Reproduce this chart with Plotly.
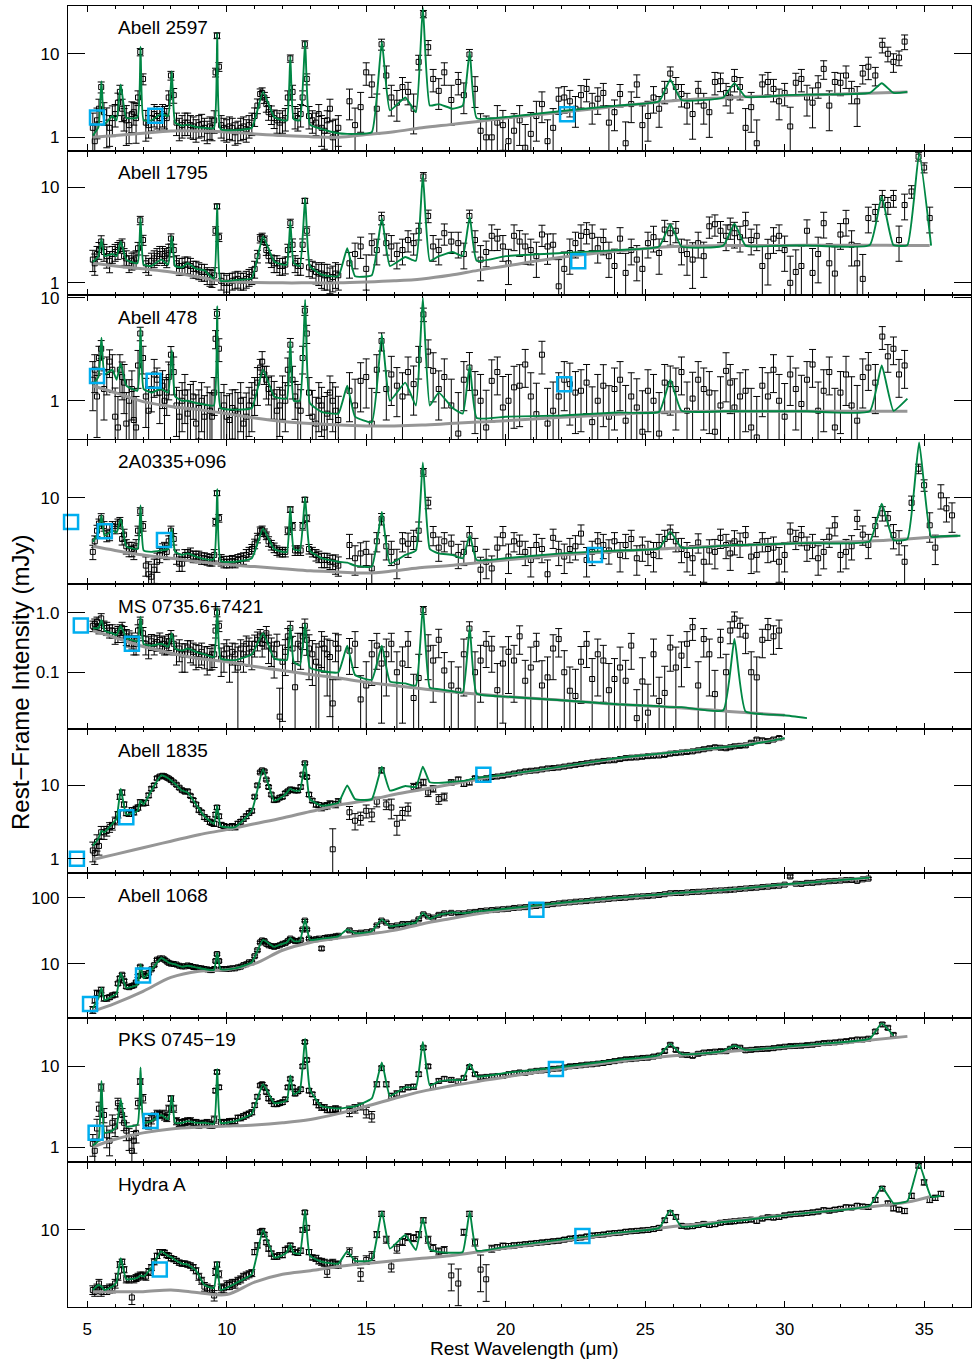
import sys
import plotly.graph_objects as go
from plotly.subplots import make_subplots

# ---------------- wavelength grids (micron) ----------------
SL_WL = [5.2, 5.35, 5.5, 5.7, 5.9, 6.1, 6.25, 6.4, 6.6, 6.75,
         6.9, 7.1, 7.3, 7.5, 7.7, 7.85, 8.0, 8.2, 8.4, 8.6,
         8.8, 9.0, 9.2, 9.4, 9.55, 9.65, 9.8, 10.0, 10.2, 10.4,
         10.6, 10.8, 11.0, 11.2, 11.35, 11.5, 11.7, 11.9, 12.1, 12.28,
         12.45, 12.65, 12.8, 12.95, 13.2, 13.4, 13.6, 13.8, 14.0]
SL2_WL = [5.27, 5.42, 5.6, 5.8, 6.0, 6.17, 6.32, 6.5, 6.67, 6.82,
          7.0, 7.2, 7.4, 7.6, 7.77, 7.92, 8.1, 8.3, 8.5, 8.7,
          8.9, 9.1, 9.3, 9.47, 9.6, 9.72, 9.9, 10.1, 10.3, 10.5,
          10.7, 10.9, 11.1, 11.27, 11.42, 11.6, 11.8, 12.0, 12.19, 12.36,
          12.55, 12.72, 12.87, 13.07, 13.3, 13.5, 13.7, 13.9]
LL_WL = [14.4, 14.8, 15.2, 15.55, 15.9, 16.3, 16.7, 17.05, 17.4, 17.8,
         18.3, 18.7, 19.1, 19.5, 19.9, 20.3, 20.7, 21.1, 21.5, 21.9,
         22.3, 22.7, 23.1, 23.5, 23.9, 24.3, 24.7, 25.1, 25.5, 25.9,
         26.3, 26.7, 27.1, 27.5, 27.9, 28.2, 28.6, 29.0, 29.4, 29.8,
         30.2, 30.6, 31.0, 31.4, 31.8, 32.2, 32.6, 33.0, 33.5, 33.9,
         34.3, 34.8, 35.2, 35.6, 36.0]
LL2_WL = [14.6, 15.0, 15.38, 15.72, 16.1, 16.5, 16.88, 17.22, 17.6, 18.05,
          18.5, 18.9, 19.3, 19.7, 20.1, 20.5, 20.9, 21.3, 21.7, 22.1,
          22.5, 22.9, 23.3, 23.7, 24.1, 24.5, 24.9, 25.3, 25.7, 26.1,
          26.5, 26.9, 27.3, 27.7, 28.05, 28.4, 28.8, 29.2, 29.6, 30.0,
          30.4, 30.8, 31.2, 31.6, 32.0, 32.4, 32.8, 33.25, 33.7, 34.1,
          34.55, 35.0, 35.4, 35.8]
MODEL_WL = [5.2, 5.4, 5.51, 5.62, 5.9, 6.05, 6.2, 6.4, 6.8, 6.91, 7.02, 7.3,
            7.65, 7.9, 8.03, 8.15, 8.4, 8.6, 8.9, 9.2, 9.54, 9.66, 9.78, 10.3,
            10.9, 11.3, 11.7, 12.0, 12.16, 12.28, 12.4, 12.62, 12.81, 12.98, 13.4, 14.0, 14.32, 14.6,
            15.2, 15.56, 15.85, 16.4, 16.78, 17.03, 17.28, 17.6, 18.1, 18.46, 18.71, 18.96,
            20.0, 22.0, 24.0, 25.5, 25.9, 26.3, 27.8, 28.2, 28.6, 30.0, 30.8, 33.05, 33.48, 33.9,
            34.4, 34.82, 35.25, 35.6, 36.3]
CONT_WL = [5.2, 6, 7, 8, 9, 10, 11, 12, 13, 14, 15, 16, 17, 18, 19, 20,
           22, 24, 26, 28, 30, 32, 33, 34.4, 35.2, 36.2]
N = None

# ---------------- Abell 2597 ----------------
A2597_sl = [1.3, 1.6, 4.0, 1.5, 1.7, 2.6, 2.2, 1.6, 1.9, 1.7,
            10.5, 1.5, 1.7, 1.8, 1.9, 1.7, 5.5, 1.5, 1.4, 1.5,
            1.35, 1.4, 1.3, 1.35, 1.6, 16.5, 1.4, 1.25, 1.3, 1.2,
            1.35, 1.4, 1.8, 3.3, 3.0, 2.0, 1.7, 1.5, 1.7, 8.8,
            1.8, 1.9, 13.0, 1.8, 1.5, 1.3, 1.6, 1.0, 1.3]
A2597_sl_err = [0.5, 0.4, 0.15, 0.5, 0.4, 0.3, 0.3, 0.5, 0.4, 0.5,
                0.1, 0.4, 0.3, 0.3, 0.3, 0.3, 0.12, 0.3, 0.3, 0.3,
                0.3, 0.3, 0.3, 0.3, 0.3, 0.08, 0.3, 0.3, 0.3, 0.3,
                0.3, 0.3, 0.25, 0.15, 0.15, 0.2, 0.25, 0.3, 0.3, 0.1,
                0.3, 0.3, 0.1, 0.3, 0.3, 0.4, 0.3, 0.6, 0.4]
A2597_sl2 = [0.9, 2.2, 2.0, 1.3, 1.9, 3.5, 1.7, 1.4, 2.0, 3.0,
             5.0, 1.4, 1.9, 1.7, 1.8, 3.0, 3.2, 1.3, 1.5, 1.4,
             1.25, 1.45, 1.2, 1.3, 6.0, 7.0, 1.3, 1.35, 1.15, 1.3,
             1.25, 1.5, 2.4, 3.4, 2.5, 1.9, 1.6, 1.6, 3.0, 3.5,
             1.7, 3.0, 5.0, 1.6, 1.9, 1.2, 2.2, 1.1]
A2597_sl2_err = [0.6, 0.3, 0.3, 0.4, 0.3, 0.2, 0.3, 0.4, 0.3, 0.2,
                 0.15, 0.3, 0.3, 0.3, 0.3, 0.2, 0.2, 0.3, 0.3, 0.3,
                 0.3, 0.3, 0.3, 0.3, 0.12, 0.12, 0.3, 0.3, 0.3, 0.3,
                 0.3, 0.3, 0.2, 0.15, 0.2, 0.25, 0.3, 0.3, 0.2, 0.2,
                 0.3, 0.2, 0.15, 0.3, 0.3, 0.4, 0.3, 0.5]
A2597_ll = [2.7, 2.3, 4.3, 13, 3.0, 4.0, 2.2, 30, 5.0, 6.0,
            4.6, 9.8, 1.2, 1.0, 1.4, 1.2, 0.75, 1.8, 0.9, 2.9,
            2.7, 3.2, 2.4, 3.4, 2.0, 0.85, 4.3, 1.8, 2.2, 5.8,
            3.3, 1.9, 2.4, 4.6, 3.4, 5.0, 1.3, 0.85, 4.6, 2.7,
            1.35, 5.0, 2.6, 6.6, 4.6, 5.5, 2.7, 7.0, 12.8, 8.0,
            14, N, N, N, N]
A2597_ll_err = [0.4, 0.5, 0.3, 0.15, 0.4, 0.3, 0.5, 0.1, 0.3, 0.3,
                0.3, 0.15, 0.6, 0.7, 0.5, 0.6, 0.9, 0.5, 0.8, 0.35,
                0.35, 0.3, 0.4, 0.3, 0.4, 0.8, 0.3, 0.5, 0.4, 0.2,
                0.3, 0.5, 0.4, 0.3, 0.3, 0.3, 0.7, 0.9, 0.3, 0.4,
                0.7, 0.3, 0.5, 0.25, 0.3, 0.3, 0.5, 0.3, 0.2, 0.25,
                0.2, 0.3, 0.3, 0.3, 0.3]
A2597_ll2 = [1.4, 6.0, 2.2, 5.5, 2.6, 3.5, 8.0, 12, 3.6, 2.8,
             3.2, 3.8, 1.0, 1.5, 0.9, 1.6, 1.1, 2.5, 1.3, 3.0,
             2.2, 3.8, 2.9, 1.5, 3.3, 2.5, 1.4, 3.0, 3.6, 4.0,
             2.4, 3.6, 2.0, 4.7, 3.0, 4.0, 2.3, 4.3, 3.8, 3.4,
             4.5, 3.0, 4.2, 2.4, 4.5, 3.6, 5.8, 5.5, 10, 9.0,
             N, N, N, N]
A2597_ll2_err = [0.6, 0.3, 0.5, 0.3, 0.4, 0.3, 0.2, 0.2, 0.4, 0.5,
                 0.4, 0.4, 0.8, 0.6, 0.9, 0.5, 0.8, 0.4, 0.7, 0.35,
                 0.4, 0.3, 0.35, 0.6, 0.3, 0.4, 0.7, 0.35, 0.3, 0.3,
                 0.4, 0.3, 0.5, 0.25, 0.35, 0.3, 0.5, 0.3, 0.3, 0.3,
                 0.3, 0.4, 0.3, 0.5, 0.3, 0.3, 0.25, 0.25, 0.2, 0.2,
                 0.3, 0.3, 0.3, 0.3]
A2597_model = [1.05, 1.32, 4.7, 1.44, 1.8, 1.6, 4.3, 1.72, 1.72, 12.2, 1.6, 1.6,
               1.9, 1.8, 6.2, 1.5, 1.38, 1.42, 1.33, 1.3, 1.29, 17.6, 1.26, 1.22,
               1.3, 3.5, 1.75, 1.6, 1.6, 9.3, 1.65, 1.6, 14, 1.42, 1.26, 1.12, 1.1, 1.1,
               1.15, 14, 2.1, 3.0, 2.0, 36, 2.4, 2.5, 2.2, 2.4, 10.6, 1.7,
               1.75, 2.07, 2.4, 2.7, 4.9, 2.8, 3.0, 4.45, 3.05, 3.2, 3.25, 3.4, 4.45, 3.4,
               3.5, N, N, N, N]
A2597_cont = [1.0, 1.05, 1.12, 1.19, 1.19, 1.16, 1.1, 1.05, 1.02, 1.0, 1.08, 1.17, 1.3,
              1.42, 1.55, 1.7, 2.0, 2.35, 2.75, 3.0, 3.15, 3.3, 3.38, 3.5, N, N]
A2597_phot_wl = [5.35, 7.44, 22.2]
A2597_phot_fl = [1.73, 1.81, 1.89]

# ---------------- Abell 1795 ----------------
A1795_sl = [1.75, 2.0, 2.7, 1.9, 2.0, 2.2, 2.5, 1.8, 1.7, 1.8,
            4.5, 1.6, 1.7, 1.9, 2.0, 1.8, 2.9, 1.6, 1.5, 1.55,
            1.4, 1.35, 1.3, 1.15, 1.2, 6.3, 1.05, 1.0, 1.05, 1.1,
            1.05, 1.15, 1.4, 2.9, 2.8, 1.9, 1.6, 1.5, 1.55, 4.2,
            1.6, 1.5, 7.2, 1.45, 1.3, 1.25, 1.2, 1.15, 1.2]
A1795_sl_err = [0.25, 0.2, 0.15, 0.25, 0.2, 0.2, 0.15, 0.2, 0.2, 0.2,
                0.1, 0.2, 0.2, 0.2, 0.2, 0.2, 0.12, 0.2, 0.2, 0.2,
                0.2, 0.2, 0.2, 0.2, 0.2, 0.06, 0.2, 0.2, 0.2, 0.2,
                0.2, 0.2, 0.2, 0.1, 0.1, 0.15, 0.2, 0.2, 0.2, 0.1,
                0.2, 0.2, 0.06, 0.2, 0.25, 0.3, 0.3, 0.3, 0.3]
A1795_sl2 = [1.6, 2.2, 2.1, 1.7, 2.1, 2.4, 1.9, 1.6, 1.75, 2.3,
             2.8, 1.5, 1.8, 2.0, 1.9, 2.2, 2.2, 1.5, 1.55, 1.5,
             1.4, 1.3, 1.2, 1.12, 3.5, 3.0, 1.0, 1.0, 1.08, 1.05,
             1.1, 1.2, 1.9, 3.0, 2.2, 1.7, 1.6, 1.5, 2.2, 2.5,
             1.5, 2.5, 3.5, 1.4, 1.25, 1.2, 1.1, 1.25]
A1795_sl2_err = [0.25, 0.2, 0.2, 0.25, 0.2, 0.15, 0.2, 0.2, 0.2, 0.15,
                 0.12, 0.2, 0.2, 0.2, 0.2, 0.15, 0.15, 0.2, 0.2, 0.2,
                 0.2, 0.2, 0.2, 0.2, 0.1, 0.1, 0.25, 0.25, 0.2, 0.2,
                 0.2, 0.2, 0.15, 0.1, 0.12, 0.15, 0.2, 0.2, 0.15, 0.15,
                 0.2, 0.15, 0.1, 0.2, 0.25, 0.3, 0.3, 0.3]
A1795_ll = [1.6, 2.4, 2.6, 4.75, 2.4, 2.2, 2.6, 12.9, 2.4, 3.3,
            2.6, 5.0, 1.75, 3.1, 2.4, 3.1, 2.4, 1.9, 2.4, 0.92,
            2.05, 3.1, 3.1, 2.8, 1.5, 1.27, 1.75, 2.6, 2.05, 3.3,
            2.2, 1.75, 1.9, 4.1, 3.1, 3.3, 4.2, 3.1, 1.9, 3.1,
            1.0, 1.5, 1.27, 4.2, 1.25, 4.4, 1.6, 4.75, 7.7, 7.7,
            6.5, 20.8, 4.75, N, N]
A1795_ll_err = [0.3, 0.25, 0.25, 0.15, 0.3, 0.3, 0.25, 0.1, 0.3, 0.25,
                0.3, 0.15, 0.4, 0.3, 0.3, 0.3, 0.35, 0.4, 0.35, 0.9,
                0.4, 0.3, 0.3, 0.3, 0.5, 0.6, 0.4, 0.3, 0.4, 0.25,
                0.3, 0.5, 0.4, 0.25, 0.3, 0.3, 0.3, 0.3, 0.5, 0.3,
                0.9, 0.6, 0.8, 0.3, 0.9, 0.3, 0.6, 0.3, 0.2, 0.2,
                0.3, 0.1, 0.3, 0.3, 0.3]
A1795_ll2 = [2.0, 1.4, 2.2, 2.6, 2.0, 2.8, 3.5, 5.0, 2.2, 2.7,
             2.0, 2.8, 2.1, 2.9, 1.6, 2.7, 2.2, 3.2, 2.5, 1.4,
             2.6, 3.4, 2.3, 1.9, 2.9, 2.2, 1.4, 3.0, 3.6, 3.5,
             2.0, 2.6, 3.9, 3.5, 3.8, 3.0, 2.8, 1.5, 2.9, 2.2,
             1.3, 3.5, 2.0, 1.6, 3.2, 2.5, 1.1, 5.5, 6.5, 2.8,
             9.0, 16, N, N]
A1795_ll2_err = [0.3, 0.4, 0.3, 0.25, 0.3, 0.25, 0.2, 0.15, 0.3, 0.25,
                 0.3, 0.25, 0.3, 0.25, 0.4, 0.3, 0.3, 0.25, 0.3, 0.5,
                 0.3, 0.25, 0.3, 0.4, 0.3, 0.3, 0.6, 0.3, 0.25, 0.25,
                 0.4, 0.3, 0.25, 0.25, 0.25, 0.3, 0.3, 0.6, 0.3, 0.4,
                 0.7, 0.3, 0.5, 0.6, 0.3, 0.4, 0.8, 0.2, 0.2, 0.4,
                 0.15, 0.12, 0.3, 0.3]
A1795_model = [1.65, 1.9, 2.85, 1.9, 2.0, 1.9, 2.7, 1.75, 1.6, 4.76, 1.55, 1.5,
               1.75, 1.55, 3.05, 1.5, 1.45, 1.6, 1.4, 1.35, 1.1, 6.55, 1.05, 1.07,
               1.12, 3.05, 1.67, 1.55, 1.55, 4.4, 1.6, 1.5, 7.7, 1.5, 1.22, 1.17, 2.3, 1.17,
               1.2, 4.76, 1.5, 1.86, 1.7, 13.4, 1.7, 1.9, 2.1, 1.9, 4.95, 1.7,
               1.9, 2.05, 2.2, 2.4, 4.1, 2.4, 2.45, 4.15, 2.45, 2.45, 2.46, 2.48, 8.0, 2.48,
               2.48, 22.6, 2.45, N, N]
A1795_cont = [1.6, 1.5, 1.4, 1.3, 1.15, 1.03, 1.01, 1.0, 1.0, 1.0, 1.02, 1.05, 1.1,
              1.2, 1.35, 1.5, 1.85, 2.15, 2.4, 2.45, 2.46, 2.47, 2.47, 2.46, 2.45, N]
A1795_phot_wl = [22.6]
A1795_phot_fl = [1.68]

# ---------------- Abell 478 ----------------
A478_sl = [1.6, 1.1, 3.2, 1.9, 2.0, 0.55, 1.7, 0.6, 1.3, 0.55,
           4.5, 1.1, 1.3, 1.6, 1.4, 1.2, 2.8, 0.9, 1.0, 0.75,
           1.1, 0.85, 0.7, 0.8, 1.2, 7.0, 0.8, 0.7, 0.85, 0.75,
           0.6, 0.9, 1.2, 2.1, 1.8, 1.3, 1.1, 0.9, 1.0, 3.5,
           1.1, 0.8, 7.5, 1.2, 0.6, 0.9, 0.75, 1.0, 0.65]
A478_sl_err = [0.5, 0.6, 0.2, 0.4, 0.4, 1.0, 0.4, 1.0, 0.5, 1.0,
               0.15, 0.5, 0.4, 0.3, 0.4, 0.4, 0.2, 0.5, 0.5, 0.7,
               0.4, 0.5, 0.6, 0.5, 0.4, 0.1, 0.5, 0.6, 0.5, 0.6,
               0.8, 0.5, 0.4, 0.2, 0.2, 0.3, 0.4, 0.5, 0.5, 0.15,
               0.4, 0.6, 0.1, 0.4, 0.8, 0.5, 0.6, 0.5, 0.7]
A478_sl2 = [2.0, 2.6, 1.3, 2.4, 0.7, 2.0, 1.5, 1.0, 0.65, 2.2,
            2.6, 0.8, 1.8, 1.2, 1.0, 1.7, 1.9, 0.7, 1.2, 0.9,
            0.6, 1.0, 0.85, 0.7, 4.0, 3.2, 0.9, 0.65, 0.8, 1.0,
            0.7, 1.0, 1.5, 2.4, 1.6, 1.2, 0.8, 1.2, 2.0, 1.6,
            0.9, 2.6, 4.5, 0.7, 1.0, 0.55, 1.2, 0.8]
A478_sl2_err = [0.4, 0.3, 0.5, 0.3, 0.9, 0.4, 0.5, 0.6, 1.0, 0.4,
                0.3, 0.7, 0.4, 0.5, 0.6, 0.4, 0.4, 0.8, 0.5, 0.6,
                0.9, 0.5, 0.6, 0.7, 0.2, 0.25, 0.6, 0.8, 0.6, 0.5,
                0.7, 0.5, 0.4, 0.25, 0.35, 0.45, 0.6, 0.45, 0.3, 0.35,
                0.6, 0.3, 0.2, 0.8, 0.5, 1.0, 0.45, 0.7]
A478_ll = [1.25, 1.56, 0.6, 3.8, 1.8, 1.1, 1.45, 6.9, 1.95, 1.7,
           0.48, 2.1, 1.0, 1.56, 0.86, 1.35, 2.25, 0.74, 0.6, 1.1,
           1.45, 1.25, 0.62, 1.4, 1.3, 0.64, 0.86, 1.25, 0.48, 1.45,
           1.9, 1.05, 1.3, 0.5, 1.95, 0.86, 1.25, 0.44, 1.1, 1.0,
           1.8, 0.93, 2.25, 1.25, 0.55, 1.8, 0.64, 2.1, 4.2, 3.2,
           2.2, N, N, N, N]
A478_ll_err = [0.5, 0.5, 1.2, 0.2, 0.5, 0.7, 0.5, 0.15, 0.5, 0.5,
               1.5, 0.4, 0.8, 0.6, 1.0, 0.6, 0.4, 1.0, 1.2, 0.7,
               0.6, 0.6, 1.2, 0.6, 0.6, 1.2, 0.9, 0.6, 1.5, 0.5,
               0.4, 0.8, 0.6, 1.5, 0.5, 0.9, 0.6, 1.5, 0.7, 0.8,
               0.5, 0.9, 0.4, 0.6, 1.4, 0.5, 1.2, 0.4, 0.25, 0.3,
               0.4, 0.5, 0.5, 0.5, 0.5]
A478_ll2 = [0.9, 1.7, 2.0, 1.3, 1.4, 1.9, 2.5, 3.0, 1.3, 0.9,
            1.6, 1.2, 0.55, 1.9, 1.0, 1.4, 1.1, 2.8, 0.8, 1.6,
            1.2, 1.5, 1.0, 0.7, 1.6, 1.1, 0.5, 1.0, 1.5, 1.3,
            0.8, 1.6, 1.2, 0.9, 1.5, 1.1, 0.55, 1.4, 2.0, 0.7,
            1.3, 1.6, 0.8, 1.9, 1.2, 0.9, 1.7, 1.5, 2.7, 1.8,
            N, N, N, N]
A478_ll2_err = [0.8, 0.5, 0.4, 0.5, 0.5, 0.4, 0.35, 0.3, 0.5, 0.8,
                0.5, 0.6, 1.3, 0.4, 0.8, 0.6, 0.7, 0.35, 0.9, 0.5,
                0.6, 0.5, 0.8, 1.0, 0.5, 0.7, 1.5, 0.8, 0.5, 0.6,
                0.9, 0.5, 0.6, 0.9, 0.5, 0.7, 1.4, 0.5, 0.4, 1.1,
                0.6, 0.5, 0.9, 0.4, 0.6, 0.9, 0.5, 0.5, 0.3, 0.4,
                0.5, 0.5, 0.5, 0.5]
A478_model = [1.45, 1.7, 4.1, 1.8, 2.0, 1.6, 2.3, 1.4, 1.25, 5.1, 1.3, 1.2,
              1.3, 1.2, 3.1, 1.1, 1.0, 1.0, 0.95, 0.92, 0.9, 8.3, 0.85, 0.82,
              0.85, 2.0, 1.1, 1.05, 1.05, 3.8, 1.0, 1.0, 9.6, 0.95, 0.78, 0.75, 1.4, 0.7,
              0.62, 4.4, 1.0, 1.5, 0.9, 10, 0.9, 1.2, 0.85, 0.75, 2.2, 0.68,
              0.7, 0.72, 0.77, 0.78, 1.6, 0.8, 0.79, 0.79, 0.79, 0.79, 0.79, 0.79, 2.2, 0.8,
              1.05, N, N, N, N]
A478_cont = [1.4, 1.2, 0.98, 0.88, 0.82, 0.75, 0.68, 0.63, 0.6, 0.58, 0.57, 0.57, 0.58,
             0.6, 0.62, 0.64, 0.69, 0.74, 0.78, 0.79, 0.79, 0.79, 0.79, 0.79, N, N]
A478_phot_wl = [5.35, 7.38, 22.1]
A478_phot_fl = [1.74, 1.56, 1.45]

# ---------------- 2A0335+096 ----------------
A0335_sl = [3.2, 5.0, 6.5, 4.5, 5.5, 5.8, 4.2, 3.6, 3.4, 3.6,
            7.5, 2.4, 1.9, 2.6, 3.3, 3.2, 5.0, 2.9, 2.5, 3.0,
            2.9, 2.9, 2.8, 2.7, 3.0, 11, 2.7, 2.6, 2.65, 2.7,
            2.8, 3.2, 3.8, 5.0, 4.8, 4.0, 3.5, 3.2, 3.2, 7.8,
            3.3, 3.3, 9.6, 3.4, 3.0, 2.7, 2.7, 2.6, 2.4]
A0335_sl_err = [0.15, 0.12, 0.1, 0.12, 0.1, 0.1, 0.12, 0.15, 0.15, 0.15,
                0.08, 0.2, 0.3, 0.2, 0.15, 0.15, 0.1, 0.15, 0.15, 0.12,
                0.12, 0.12, 0.12, 0.12, 0.12, 0.05, 0.12, 0.12, 0.12, 0.12,
                0.12, 0.1, 0.1, 0.08, 0.08, 0.1, 0.1, 0.1, 0.1, 0.06,
                0.1, 0.1, 0.05, 0.1, 0.12, 0.15, 0.15, 0.15, 0.2]
A0335_sl2 = [4.0, 5.8, 5.5, 4.6, 5.2, 6.0, 4.6, 3.4, 3.2, 5.0,
             5.5, 2.0, 2.2, 3.0, 3.4, 4.0, 4.2, 2.5, 3.0, 3.1,
             2.9, 2.8, 2.75, 2.7, 6.0, 6.5, 2.6, 2.6, 2.6, 2.75,
             3.0, 3.4, 4.3, 5.1, 4.5, 3.7, 3.3, 3.2, 5.0, 5.5,
             3.3, 5.5, 6.5, 3.2, 2.9, 2.7, 2.6, 2.5]
A0335_sl2_err = [0.12, 0.1, 0.1, 0.12, 0.1, 0.1, 0.12, 0.15, 0.15, 0.1,
                 0.1, 0.3, 0.25, 0.15, 0.15, 0.12, 0.12, 0.15, 0.12, 0.12,
                 0.12, 0.12, 0.12, 0.12, 0.08, 0.08, 0.12, 0.12, 0.12, 0.12,
                 0.12, 0.1, 0.1, 0.08, 0.08, 0.1, 0.1, 0.1, 0.08, 0.08,
                 0.1, 0.08, 0.07, 0.1, 0.12, 0.15, 0.15, 0.2]
A0335_ll = [3.7, 3.1, 2.26, 6.4, 3.2, 4.0, 4.2, 17.1, 4.55, 4.0,
            3.0, 4.55, 2.2, 2.26, 4.55, 4.0, 3.2, 3.7, 2.0, 3.2,
            3.4, 4.7, 3.2, 3.7, 4.0, 3.7, 2.8, 3.2, 3.7, 4.9,
            3.4, 2.8, 2.6, 3.2, 3.7, 4.0, 4.55, 3.0, 3.4, 2.6,
            4.9, 4.55, 3.7, 3.2, 5.6, 3.2, 6.4, 3.7, 7.2, 4.55,
            2.6, 18.4, 5.6, 10.5, 6.9]
A0335_ll_err = [0.25, 0.25, 0.35, 0.12, 0.25, 0.2, 0.2, 0.08, 0.2, 0.2,
                0.25, 0.2, 0.3, 0.3, 0.2, 0.2, 0.25, 0.25, 0.35, 0.25,
                0.25, 0.2, 0.25, 0.25, 0.2, 0.25, 0.3, 0.25, 0.25, 0.15,
                0.25, 0.3, 0.35, 0.3, 0.25, 0.25, 0.2, 0.3, 0.25, 0.35,
                0.2, 0.2, 0.25, 0.3, 0.2, 0.3, 0.2, 0.25, 0.15, 0.25,
                0.4, 0.1, 0.3, 0.25, 0.3]
A0335_ll2 = [2.8, 3.2, 4.0, 3.6, 2.6, 3.8, 5.0, 9.0, 3.5, 3.8,
             3.2, 3.4, 2.6, 3.5, 2.9, 3.8, 2.7, 3.4, 4.3, 2.9,
             3.6, 2.7, 4.0, 3.3, 3.0, 4.2, 3.5, 3.0, 4.2, 4.0,
             3.0, 3.9, 3.3, 4.3, 3.1, 3.8, 2.9, 4.0, 3.5, 3.0,
             4.2, 3.5, 2.8, 4.4, 3.0, 3.6, 4.6, 5.5, 6.5, 4.0,
             9.0, 13, 3.5, 8.0]
A0335_ll2_err = [0.3, 0.25, 0.2, 0.25, 0.3, 0.25, 0.2, 0.12, 0.25, 0.2,
                 0.25, 0.25, 0.3, 0.25, 0.3, 0.2, 0.3, 0.25, 0.2, 0.3,
                 0.25, 0.3, 0.2, 0.25, 0.3, 0.2, 0.25, 0.3, 0.2, 0.2,
                 0.3, 0.2, 0.25, 0.2, 0.3, 0.25, 0.3, 0.2, 0.25, 0.3,
                 0.2, 0.25, 0.3, 0.2, 0.3, 0.25, 0.2, 0.2, 0.15, 0.25,
                 0.15, 0.12, 0.3, 0.25]
A0335_model = [3.95, 4.8, 6.9, 4.5, 5.0, 4.8, 6.4, 3.6, 3.4, 8.5, 3.3, 3.2,
               3.3, 3.4, 5.2, 3.2, 3.0, 3.1, 2.9, 2.75, 2.75, 12, 2.65, 2.6,
               2.8, 5.2, 3.4, 3.2, 3.2, 8.2, 3.4, 3.3, 10.1, 3.3, 2.8, 2.6, 2.55, 2.4,
               2.35, 7.4, 2.5, 3.0, 3.3, 21, 3.4, 3.1, 3.0, 2.8, 4.55, 2.7,
               2.8, 3.1, 3.3, 3.45, 4.9, 3.5, 3.65, 3.7, 3.7, 3.8, 3.85, 4.0, 8.8, 4.1,
               4.2, 32, 4.4, 4.45, 4.5]
A0335_cont = [3.6, 3.3, 3.0, 2.8, 2.6, 2.45, 2.35, 2.25, 2.15, 2.1, 2.05, 2.15, 2.3,
              2.4, 2.55, 2.7, 3.0, 3.25, 3.45, 3.65, 3.8, 3.95, 4.0, 4.2, 4.35, 4.5]
A0335_phot_wl = [4.42, 5.63, 7.75, 23.2]
A0335_phot_fl = [6.0, 4.94, 4.1, 3.0]

# ---------------- MS 0735.6+7421 ----------------
MS0735_sl = [0.6, 0.7, 0.8, 0.55, 0.5, 0.45, 0.55, 0.4, 0.35, 0.3,
             0.7, 0.3, 0.33, 0.32, 0.3, 0.28, 0.4, 0.22, 0.2, 0.26,
             0.22, 0.2, 0.19, 0.18, 0.2, 1.0, 0.17, 0.25, 0.22, 0.12,
             0.2, 0.25, 0.3, 0.4, 0.35, 0.28, 0.2, 0.018, 0.22, 0.55,
             0.056, 0.28, 0.6, 0.25, 0.15, 0.3, 0.2, 0.03, 0.25]
MS0735_sl_err = [0.2, 0.2, 0.2, 0.25, 0.25, 0.3, 0.25, 0.3, 0.3, 0.35,
                 0.2, 0.35, 0.3, 0.3, 0.3, 0.3, 0.25, 0.4, 0.5, 0.3,
                 0.4, 0.4, 0.4, 0.4, 0.4, 0.15, 0.5, 0.4, 0.4, 1.2,
                 0.5, 0.5, 0.4, 0.3, 0.3, 0.5, 0.6, 2.0, 0.6, 0.3,
                 1.5, 0.6, 0.3, 0.7, 1.0, 0.6, 0.8, 1.5, 0.7]
MS0735_sl2 = [0.65, 0.55, 0.6, 0.5, 0.42, 0.5, 0.45, 0.38, 0.3, 0.5,
              0.45, 0.28, 0.3, 0.35, 0.3, 0.33, 0.3, 0.25, 0.2, 0.24,
              0.2, 0.22, 0.18, 0.2, 0.5, 0.6, 0.2, 0.17, 0.2, 0.25,
              0.3, 0.22, 0.35, 0.3, 0.45, 0.25, 0.3, 0.15, 0.4, 0.25,
              0.3, 0.4, 0.35, 0.2, 0.12, 0.25, 0.18, 0.3]
MS0735_sl2_err = [0.2, 0.2, 0.2, 0.25, 0.3, 0.25, 0.3, 0.3, 0.35, 0.25,
                  0.25, 0.4, 0.35, 0.3, 0.35, 0.3, 0.35, 0.4, 0.5, 0.4,
                  0.45, 0.4, 0.5, 0.45, 0.25, 0.2, 0.5, 0.6, 0.5, 0.4,
                  0.35, 0.5, 0.35, 0.4, 0.3, 0.5, 0.45, 0.9, 0.35, 0.6,
                  0.5, 0.4, 0.45, 0.7, 1.2, 0.6, 0.9, 0.5]
MS0735_ll = [0.23, 0.035, 0.2, 0.14, 0.3, 0.14, 0.037, 1.1, 0.157, 0.107,
             0.049, 0.54, 0.157, 0.25, 0.14, 0.157, 0.072, 0.3, 0.082, 0.36,
             0.049, 0.15, 0.077, 0.157, 0.077, 0.072, 0.017, 0.021, 0.033, 0.26,
             0.19, 0.57, 0.36, 0.043, 0.1, 0.79, 0.41, 0.082, 0.57, 0.5,
             N, N, N, N, N, N, N, N, N, N,
             N, N, N, N, N]
MS0735_ll_err = [0.6, 1.5, 0.7, 0.9, 0.5, 0.9, 1.5, 0.15, 0.8, 1.0,
                 1.5, 0.3, 0.8, 0.6, 0.9, 0.8, 1.2, 0.5, 1.2, 0.5,
                 1.5, 0.8, 1.2, 0.8, 1.2, 1.2, 2.0, 2.0, 1.5, 0.6,
                 0.7, 0.4, 0.5, 1.5, 1.0, 0.3, 0.5, 1.2, 0.4, 0.5,
                 0.5, 0.5, 0.5, 0.5, 0.5, 0.5, 0.5, 0.5, 0.5, 0.5,
                 0.5, 0.5, 0.5, 0.5, 0.5]
MS0735_ll2 = [0.3, 0.06, 0.28, 0.2, 0.1, 0.3, 0.08, 0.25, 0.35, 0.06,
              0.2, 0.1, 0.3, 0.05, 0.22, 0.4, 0.12, 0.06, 0.25, 0.1,
              0.04, 0.3, 0.2, 0.05, 0.12, 0.28, 0.07, 0.2, 0.045, 0.12,
              0.3, 0.06, 0.2, 0.35, 0.5, 0.6, 0.1, 0.35, 0.4, N,
              N, N, N, N, N, N, N, N, N, N,
              N, N, N, N]
MS0735_ll2_err = [0.6, 1.5, 0.6, 0.8, 1.2, 0.6, 1.5, 0.7, 0.5, 1.5,
                  0.8, 1.2, 0.6, 1.8, 0.8, 0.5, 1.2, 1.6, 0.7, 1.3,
                  1.8, 0.6, 0.8, 1.8, 1.2, 0.6, 1.5, 0.8, 1.8, 1.2,
                  0.6, 1.5, 0.8, 0.5, 0.4, 0.35, 1.2, 0.5, 0.5, 0.5,
                  0.5, 0.5, 0.5, 0.5, 0.5, 0.5, 0.5, 0.5, 0.5, 0.5,
                  0.5, 0.5, 0.5, 0.5]
MS0735_model = [0.55, 0.55, 0.75, 0.5, 0.45, 0.42, 0.6, 0.38, 0.33, 0.85, 0.3, 0.28,
                0.3, 0.27, 0.45, 0.25, 0.23, 0.25, 0.22, 0.2, 0.18, 1.2, 0.17, 0.16,
                0.2, 0.45, 0.17, 0.16, 0.16, 0.6, 0.15, 0.13, 0.65, 0.12, 0.105, 0.1, 0.28, 0.09,
                0.075, 0.28, 0.07, 0.065, 0.06, 1.25, 0.055, 0.052, 0.048, 0.046, 0.57, 0.044,
                0.039, 0.034, 0.029, 0.027, 0.026, 0.026, 0.023, 0.36, 0.022, 0.019, 0.017, N, N, N,
                N, N, N, N, N]
MS0735_cont = [0.5, 0.38, 0.27, 0.21, 0.17, 0.15, 0.125, 0.107, 0.092, 0.08, 0.068, 0.06, 0.053,
               0.047, 0.043, 0.039, 0.034, 0.029, 0.026, 0.022, 0.019, N, N, N, N, N]
MS0735_phot_wl = [4.77, 6.6]
MS0735_phot_fl = [0.61, 0.3]

# ---------------- Abell 1835 ----------------
A1835_sl = [1.3, 1.7, 2.3, 2.4, 2.8, 4.0, 8.0, 4.2, 4.6, 4.8,
            5.9, 5.8, 9.0, 12.5, 13.5, 12.8, 11.8, 10.2, 8.6, 8.3,
            6.3, 4.6, 3.7, 3.2, 3.0, 5.0, 2.9, 2.7, 2.8, 3.0,
            3.5, 4.2, 7.0, 15.0, 15.5, 9.5, 6.3, 6.8, 7.8, 8.8,
            8.5, 9.5, 20, 7.5, 5.5, 5.0, 5.3, 1.35, 6.0]
A1835_sl_err = [0.3, 0.25, 0.2, 0.15, 0.12, 0.1, 0.08, 0.08, 0.08, 0.08,
                0.08, 0.08, 0.06, 0.05, 0.05, 0.05, 0.05, 0.05, 0.05, 0.05,
                0.05, 0.06, 0.07, 0.08, 0.08, 0.06, 0.08, 0.08, 0.08, 0.08,
                0.07, 0.06, 0.05, 0.04, 0.04, 0.05, 0.06, 0.06, 0.06, 0.05,
                0.06, 0.06, 0.04, 0.06, 0.08, 0.1, 0.1, 0.9, 0.1]
A1835_sl2 = [1.2, 1.5, 2.3, 2.7, 3.3, 7.0, 5.5, 4.1, 4.3, 5.0,
             5.7, 7.3, 10, 13.2, 13.3, 12.4, 11, 9.3, 8.2, 7.2,
             5.5, 4.3, 3.5, 3.1, 4.0, 3.8, 2.8, 2.7, 2.7, 3.2,
             3.8, 4.5, 10, 16, 12, 7.5, 6.4, 7.0, 8.3, 8.7,
             8.5, 14, 13, 6.2, 5.4, 5.2, 5.6, 5.5]
A1835_sl2_err = [0.3, 0.25, 0.2, 0.15, 0.12, 0.08, 0.08, 0.08, 0.08, 0.08,
                 0.08, 0.07, 0.06, 0.05, 0.05, 0.05, 0.05, 0.05, 0.05, 0.05,
                 0.05, 0.06, 0.07, 0.08, 0.07, 0.07, 0.08, 0.08, 0.08, 0.07,
                 0.07, 0.06, 0.05, 0.04, 0.04, 0.05, 0.06, 0.06, 0.05, 0.05,
                 0.06, 0.05, 0.05, 0.06, 0.08, 0.1, 0.1, 0.1]
A1835_ll = [4.3, 3.6, 4.0, 16, 5.0, 4.2, 9.5, 11, 9.0, 7.0,
            12, 11, 12, 13, 13.5, 14.5, 15.5, 16, 17, 17.5,
            18.5, 19.5, 20.5, 21.5, 22, 23.5, 24, 25, 25.5, 27,
            28, 29, 31, 33, 32, 34, 35, 42, 40, 44,
            N, N, N, N, N, N, N, N, N, N,
            N, N, N, N, N]
A1835_ll_err = [0.2, 0.2, 0.2, 0.08, 0.3, 0.2, 0.12, 0.1, 0.1, 0.12,
                0.08, 0.08, 0.06, 0.05, 0.05, 0.05, 0.05, 0.05, 0.05, 0.05,
                0.05, 0.05, 0.05, 0.05, 0.05, 0.05, 0.05, 0.05, 0.05, 0.05,
                0.05, 0.05, 0.05, 0.05, 0.05, 0.05, 0.05, 0.05, 0.05, 0.05,
                0.05, 0.05, 0.05, 0.05, 0.05, 0.05, 0.05, 0.05, 0.05, 0.05,
                0.05, 0.05, 0.05, 0.05, 0.05]
A1835_ll2 = [3.3, 4.5, 6.0, 5.5, 3.0, 4.8, 10, 8.0, 6.5, 11,
             10.5, 12.5, 12.5, 13.2, 14, 15, 15.8, 16.5, 17.2, 18,
             19, 20, 21, 21.8, 22.8, 23.8, 24.5, 25.3, 26, 27.5,
             28.5, 30, 32, 32.5, 33, 34.5, 38, 41, 42, N,
             N, N, N, N, N, N, N, N, N, N,
             N, N, N, N]
A1835_ll2_err = [0.25, 0.2, 0.15, 0.15, 0.3, 0.2, 0.1, 0.12, 0.15, 0.08,
                 0.08, 0.06, 0.05, 0.05, 0.05, 0.05, 0.05, 0.05, 0.05, 0.05,
                 0.05, 0.05, 0.05, 0.05, 0.05, 0.05, 0.05, 0.05, 0.05, 0.05,
                 0.05, 0.05, 0.05, 0.05, 0.05, 0.05, 0.05, 0.05, 0.05, 0.05,
                 0.05, 0.05, 0.05, 0.05, 0.05, 0.05, 0.05, 0.05, 0.05, 0.05,
                 0.05, 0.05, 0.05, 0.05]
A1835_model = [1.5, 1.9, 2.4, 2.3, 3.0, 3.5, 9.0, 4.0, 4.5, 6.2, 5.5, 8.5,
               13.7, 12.5, 11.5, 10.5, 8.5, 8.0, 5.5, 3.8, 3.0, 5.3, 2.8, 2.7,
               4.5, 16.5, 6.2, 7.0, 8.0, 9.0, 8.5, 8.5, 21, 6.5, 5.3, 5.8, 10, 6.5,
               6.5, 17.9, 8.5, 9.8, 9.5, 18, 11, 10.8, 11.2, 11.5, 12, 12.6,
               14, 18, 23.5, 27, 28, 29, 33, 34, 35, 44, N, N, N, N,
               N, N, N, N, N]
A1835_cont = [0.98, 1.15, 1.42, 1.74, 2.13, 2.5, 3.0, 3.6, 4.4, 5.4, 6.2, 7.5, 8.8,
              10.3, 12.2, 13.8, 17.8, 23, 28.2, 33.5, 43.5, N, N, N, N, N]
A1835_phot_wl = [4.63, 6.4, 19.2]
A1835_phot_fl = [1.0, 3.67, 14.0]

# ---------------- Abell 1068 ----------------
A1068_sl = [2.0, 3.6, 4.0, 3.0, 3.3, 5.0, 6.8, 4.5, 4.6, 5.2,
            9.0, 6.5, 8.2, 11.5, 12.0, 10.8, 10.0, 9.7, 9.1, 9.4,
            8.9, 8.6, 8.3, 8.0, 8.3, 14.0, 8.3, 8.3, 8.5, 8.8,
            9.5, 10.5, 13, 21, 22, 19, 18, 19, 20.5, 24,
            22, 23, 45, 24, 23.5, 17, 25, 25.5, 26.5]
A1068_sl_err = [0.12, 0.1, 0.1, 0.1, 0.08, 0.06, 0.05, 0.06, 0.06, 0.05,
                0.05, 0.05, 0.04, 0.04, 0.04, 0.04, 0.04, 0.04, 0.04, 0.04,
                0.04, 0.04, 0.04, 0.04, 0.04, 0.04, 0.04, 0.04, 0.04, 0.04,
                0.04, 0.04, 0.04, 0.04, 0.04, 0.04, 0.04, 0.04, 0.04, 0.04,
                0.04, 0.04, 0.04, 0.04, 0.04, 0.06, 0.04, 0.04, 0.04]
A1068_sl2 = [2.8, 3.5, 3.0, 3.1, 3.4, 6.0, 5.5, 4.4, 4.7, 6.5,
             7.0, 7.2, 9.5, 12, 11.5, 10.3, 9.9, 9.3, 9.1, 9.2,
             8.8, 8.5, 8.2, 8.0, 11, 11, 8.3, 8.4, 8.5, 9.0,
             9.8, 10.5, 16, 22.5, 20, 18.5, 18.5, 20, 22, 23,
             22, 33, 33, 23, 24, 24.5, 25, 26]
A1068_sl2_err = [0.1, 0.1, 0.1, 0.08, 0.08, 0.06, 0.05, 0.06, 0.05, 0.05,
                 0.04, 0.04, 0.04, 0.04, 0.04, 0.04, 0.04, 0.04, 0.04, 0.04,
                 0.04, 0.04, 0.04, 0.04, 0.04, 0.04, 0.04, 0.04, 0.04, 0.04,
                 0.04, 0.04, 0.04, 0.04, 0.04, 0.04, 0.04, 0.04, 0.04, 0.04,
                 0.04, 0.04, 0.04, 0.04, 0.04, 0.04, 0.04, 0.04]
A1068_ll = [32, 29.5, 31, 45, 37, 40, 42, 56, 50, 58,
            58, 60, 63, 65, 67, 70, 72, 75, 78, 82,
            85, 88, 91, 94, 98, 100, 104, 106, 110, 117,
            118, 122, 124, 128, 130, 133, 138, 142, 147, 152,
            210, 162, 168, 175, 180, 185, 180, 195, N, N,
            N, N, N, N, N]
A1068_ll_err = [0.05, 0.05, 0.05, 0.04, 0.04, 0.04, 0.04, 0.04, 0.04, 0.04,
                0.04, 0.04, 0.04, 0.04, 0.04, 0.04, 0.04, 0.04, 0.04, 0.04,
                0.04, 0.04, 0.04, 0.04, 0.04, 0.04, 0.04, 0.04, 0.04, 0.04,
                0.04, 0.04, 0.04, 0.04, 0.04, 0.04, 0.04, 0.04, 0.04, 0.04,
                0.05, 0.04, 0.04, 0.04, 0.04, 0.04, 0.04, 0.04, 0.04, 0.04,
                0.04, 0.04, 0.04, 0.04, 0.04]
A1068_ll2 = [29, 30, 38, 42, 38, 40, 47, 52, 55, 59,
             58, 61, 64, 66, 68, 71, 74, 77, 80, 84,
             87, 89, 93, 96, 99, 102, 105, 108, 113, 118,
             120, 123, 126, 129, 132, 136, 140, 145, 150, 158,
             163, 168, 172, 178, 182, 186, 190, N, N, N,
             N, N, N, N]
A1068_ll2_err = [0.04, 0.04, 0.04, 0.04, 0.04, 0.04, 0.04, 0.04, 0.04, 0.04,
                 0.04, 0.04, 0.04, 0.04, 0.04, 0.04, 0.04, 0.04, 0.04, 0.04,
                 0.04, 0.04, 0.04, 0.04, 0.04, 0.04, 0.04, 0.04, 0.04, 0.04,
                 0.04, 0.04, 0.04, 0.04, 0.04, 0.04, 0.04, 0.04, 0.04, 0.04,
                 0.04, 0.04, 0.04, 0.04, 0.04, 0.04, 0.04, 0.04, 0.04, 0.04,
                 0.04, 0.04, 0.04, 0.04]
A1068_model = [2.1, 3.0, 4.3, 2.8, 3.2, 3.5, 7.2, 4.3, 4.8, 9.7, 6.0, 8.0,
               12.2, 10.5, 10.0, 9.8, 9.0, 9.3, 8.8, 8.3, 8.0, 14.5, 8.2, 8.5,
               10.5, 23, 18, 20, 21, 24.6, 22, 22, 47, 23, 24, 26, 33, 29,
               31, 47, 37, 40, 42, 59, 48, 55, 60, 58, 60, 62,
               68, 84, 100, 112, 116, 119, 131, 135, 139, 160, 169, 202, N, N,
               N, N, N, N, N]
A1068_cont = [1.9, 2.5, 3.8, 6.2, 7.7, 8.1, 10, 16, 21, 24.5, 28, 32, 40,
              48, 57, 66, 82, 98, 115, 132, 157, 185, 200, N, N, N]
A1068_phot_wl = [5.1, 7.0, 21.1]
A1068_phot_fl = [2.45, 6.6, 66]

# ---------------- PKS 0745-19 ----------------
PKS0745_sl = [1.1, 1.7, 5.5, 1.4, 2.0, 3.5, 2.5, 1.6, 0.9, 1.5,
              6.5, 2.0, 2.2, 2.6, 2.6, 2.3, 4.0, 2.1, 2.0, 2.1,
              2.0, 1.9, 1.95, 1.9, 2.2, 8.5, 2.0, 2.0, 2.1, 2.3,
              2.4, 2.6, 3.3, 5.8, 5.5, 4.0, 3.4, 3.5, 3.9, 7.0,
              4.6, 5.2, 20, 5.0, 3.6, 3.1, 2.9, 2.9, 2.9]
PKS0745_sl_err = [0.3, 0.3, 0.1, 0.3, 0.25, 0.15, 0.2, 0.25, 0.4, 0.25,
                  0.08, 0.15, 0.12, 0.1, 0.1, 0.1, 0.08, 0.1, 0.1, 0.1,
                  0.1, 0.1, 0.1, 0.1, 0.1, 0.05, 0.1, 0.1, 0.08, 0.08,
                  0.08, 0.07, 0.06, 0.05, 0.05, 0.06, 0.06, 0.06, 0.06, 0.05,
                  0.06, 0.06, 0.04, 0.06, 0.07, 0.08, 0.08, 0.08, 0.08]
PKS0745_sl2 = [0.9, 3.0, 2.5, 1.2, 1.8, 3.0, 2.0, 1.3, 1.2, 3.5,
               4.0, 1.9, 2.4, 2.5, 2.4, 3.0, 3.0, 2.0, 2.05, 2.1,
               2.0, 1.95, 2.0, 1.9, 5.0, 5.5, 2.0, 2.05, 2.1, 2.3,
               2.5, 2.7, 4.2, 6.0, 4.8, 3.7, 3.4, 3.6, 5.5, 5.5,
               4.9, 10, 12, 4.5, 3.3, 3.1, 2.9, 3.0]
PKS0745_sl2_err = [0.4, 0.2, 0.2, 0.35, 0.25, 0.15, 0.2, 0.3, 0.3, 0.15,
                   0.12, 0.12, 0.1, 0.1, 0.1, 0.1, 0.1, 0.1, 0.1, 0.1,
                   0.1, 0.1, 0.1, 0.1, 0.06, 0.06, 0.1, 0.1, 0.08, 0.08,
                   0.08, 0.07, 0.06, 0.05, 0.05, 0.06, 0.06, 0.06, 0.05, 0.05,
                   0.06, 0.05, 0.05, 0.06, 0.07, 0.08, 0.08, 0.08]
PKS0745_ll = [2.8, 3.2, 2.4, 9.5, 4.3, 5.2, 5.6, 17, 5.7, 7.0,
              6.5, 9.8, 7.3, 7.5, 7.6, 8.2, 8.3, 8.8, 9.0, 9.4,
              10.0, 10.3, 10.6, 11.0, 11.6, 12.2, 12.5, 12.8, 13.6, 18.5,
              14.0, 13.5, 14.8, 15.2, 15.4, 17.5, 15.8, 16.3, 16.5, 17.2,
              17.8, 18.0, 18.5, 19.4, 19.8, 20.5, 21.5, 22, 33, 24.5,
              N, N, N, N, N]
PKS0745_ll_err = [0.15, 0.1, 0.15, 0.06, 0.08, 0.07, 0.07, 0.05, 0.07, 0.06,
                  0.06, 0.05, 0.05, 0.05, 0.05, 0.05, 0.05, 0.05, 0.05, 0.05,
                  0.05, 0.05, 0.05, 0.05, 0.05, 0.05, 0.05, 0.05, 0.05, 0.05,
                  0.05, 0.05, 0.05, 0.05, 0.05, 0.05, 0.05, 0.05, 0.05, 0.05,
                  0.05, 0.05, 0.05, 0.05, 0.05, 0.05, 0.05, 0.05, 0.05, 0.05,
                  0.05, 0.05, 0.05, 0.05, 0.05]
PKS0745_ll2 = [3.0, 2.7, 6.0, 6.0, 4.6, 5.5, 8.0, 10, 6.6, 6.8,
               7.2, 8.0, 7.4, 7.6, 8.0, 8.4, 8.6, 8.9, 9.3, 9.7,
               10.1, 10.5, 10.8, 11.3, 11.9, 12.3, 12.7, 13.2, 15.5, 16,
               13.8, 14.3, 15.0, 15.4, 16.5, 17, 16.0, 16.4, 16.8, 17.5,
               17.9, 18.3, 19.0, 19.6, 20.2, 21.0, 21.5, 27, 30, N,
               N, N, N, N]
PKS0745_ll2_err = [0.12, 0.15, 0.07, 0.07, 0.08, 0.07, 0.06, 0.05, 0.06, 0.06,
                   0.05, 0.05, 0.05, 0.05, 0.05, 0.05, 0.05, 0.05, 0.05, 0.05,
                   0.05, 0.05, 0.05, 0.05, 0.05, 0.05, 0.05, 0.05, 0.05, 0.05,
                   0.05, 0.05, 0.05, 0.05, 0.05, 0.05, 0.05, 0.05, 0.05, 0.05,
                   0.05, 0.05, 0.05, 0.05, 0.05, 0.05, 0.05, 0.05, 0.05, 0.05,
                   0.05, 0.05, 0.05, 0.05]
PKS0745_model = [1.05, 1.2, 6.6, 1.5, 1.6, 1.8, 3.9, 1.8, 1.9, 9.7, 2.0, 2.1,
                 2.5, 2.2, 4.3, 2.0, 2.0, 2.1, 2.0, 2.0, 1.95, 9.3, 2.0, 2.1,
                 2.6, 6.0, 3.5, 3.6, 3.8, 7.7, 4.5, 5.0, 22, 5.2, 3.2, 3.0, 3.1, 3.2,
                 4.0, 11.2, 4.3, 5.5, 5.5, 20, 5.8, 6.5, 6.8, 6.8, 10.7, 7.5,
                 8.3, 9.8, 12, 13.8, 19, 14.2, 15.5, 18, 16, 17.5, 18.5, 22, 34, 24,
                 N, N, N, N, N]
PKS0745_cont = [1.0, 1.25, 1.5, 1.68, 1.77, 1.82, 1.88, 2.0, 2.2, 2.6, 3.2, 4.0, 4.9,
                5.7, 6.5, 7.4, 9.3, 11.5, 13.5, 15.3, 17.2, 19.5, 21, 23.5, N, N]
PKS0745_phot_wl = [5.3, 7.27, 21.8]
PKS0745_phot_fl = [1.51, 2.1, 9.3]

# ---------------- Hydra A ----------------
HYDRA_sl = [2.5, 2.6, 2.4, 2.5, 2.6, 3.4, 4.8, 3.2, 2.1, 3.3,
            3.5, 3.4, 4.2, 5.5, 6.0, 5.6, 5.2, 4.9, 4.6, 4.5,
            4.2, 3.4, 2.7, 2.5, 2.2, 4.5, 2.6, 2.8, 2.9, 3.1,
            3.4, 3.6, 6.0, 9.5, 9.0, 6.5, 5.4, 5.6, 6.3, 7.0,
            6.0, 6.2, 15, 6.0, 5.2, 4.8, 3.8, 4.7, 4.5]
HYDRA_sl_err = [0.1, 0.1, 0.1, 0.1, 0.1, 0.08, 0.06, 0.08, 0.15, 0.08,
                0.08, 0.08, 0.07, 0.06, 0.06, 0.06, 0.06, 0.06, 0.06, 0.06,
                0.07, 0.08, 0.1, 0.1, 0.12, 0.06, 0.1, 0.1, 0.1, 0.08,
                0.08, 0.08, 0.06, 0.05, 0.05, 0.06, 0.06, 0.06, 0.06, 0.05,
                0.06, 0.06, 0.04, 0.06, 0.07, 0.08, 0.12, 0.08, 0.08]
HYDRA_sl2 = [2.4, 2.9, 2.5, 2.6, 2.9, 4.5, 4.0, 3.2, 3.2, 3.4,
             3.5, 3.8, 4.8, 6.0, 5.9, 5.5, 5.1, 4.7, 4.6, 4.4,
             3.9, 3.1, 2.6, 2.5, 3.8, 3.6, 2.6, 2.8, 2.9, 3.2,
             3.5, 3.7, 7.0, 9.8, 7.5, 5.8, 5.4, 5.6, 6.5, 6.4,
             5.9, 10, 10.5, 5.3, 4.9, 4.7, 4.6, 4.5]
HYDRA_sl2_err = [0.1, 0.1, 0.1, 0.1, 0.1, 0.07, 0.07, 0.08, 0.08, 0.08,
                 0.08, 0.08, 0.07, 0.06, 0.06, 0.06, 0.06, 0.06, 0.06, 0.06,
                 0.07, 0.08, 0.1, 0.1, 0.08, 0.08, 0.1, 0.1, 0.1, 0.08,
                 0.08, 0.08, 0.06, 0.05, 0.05, 0.06, 0.06, 0.06, 0.06, 0.06,
                 0.06, 0.05, 0.05, 0.06, 0.07, 0.08, 0.08, 0.08]
HYDRA_ll = [6.0, 3.6, 5.5, 14.5, 4.3, 7.6, 8.3, 12.5, 6.6, 6.3,
            2.9, 14.5, 4.0, 6.5, 6.9, 7.0, 7.2, 7.4, 7.6, 7.8,
            8.2, 8.4, 8.8, 9.0, 9.3, 9.6, 9.8, 10.0, 10.5, 14.8,
            11.0, 10.9, 11.5, 11.4, 12.0, 12.2, 12.5, 12.3, 13.4, 13.5,
            14.3, 14.6, 15.0, 15.8, 16.0, 16.9, 17.5, 17.0, 26, 16.5,
            15.5, 44, 20, 23, N]
HYDRA_ll_err = [0.1, 0.15, 0.1, 0.06, 0.12, 0.08, 0.08, 0.06, 0.08, 0.08,
                0.4, 0.06, 0.4, 0.08, 0.07, 0.06, 0.05, 0.05, 0.05, 0.05,
                0.05, 0.05, 0.05, 0.05, 0.05, 0.05, 0.05, 0.05, 0.05, 0.05,
                0.05, 0.05, 0.05, 0.05, 0.05, 0.05, 0.05, 0.05, 0.05, 0.05,
                0.05, 0.05, 0.05, 0.05, 0.05, 0.05, 0.05, 0.05, 0.05, 0.06,
                0.06, 0.05, 0.06, 0.06, 0.06]
HYDRA_ll2 = [4.9, 5.0, 9.0, 8.0, 6.5, 8.5, 9.0, 8.0, 6.1, 3.5,
             9.5, 7.5, 3.2, 6.7, 6.9, 7.1, 7.3, 7.5, 7.7, 8.0,
             8.3, 8.6, 8.9, 9.2, 9.4, 9.7, 9.9, 10.2, 12.5, 13.5,
             10.8, 11.2, 11.2, 11.8, 12.1, 12.4, 12.7, 13.0, 13.3, 14.0,
             14.5, 14.8, 15.3, 15.6, 16.3, 16.8, 17.2, 20, 18.5, 16,
             22, 30, 21, N]
HYDRA_ll2_err = [0.1, 0.1, 0.07, 0.08, 0.1, 0.08, 0.07, 0.08, 0.08, 0.3,
                 0.07, 0.08, 0.4, 0.06, 0.06, 0.05, 0.05, 0.05, 0.05, 0.05,
                 0.05, 0.05, 0.05, 0.05, 0.05, 0.05, 0.05, 0.05, 0.05, 0.05,
                 0.05, 0.05, 0.05, 0.05, 0.05, 0.05, 0.05, 0.05, 0.05, 0.05,
                 0.05, 0.05, 0.05, 0.05, 0.05, 0.05, 0.05, 0.05, 0.05, 0.05,
                 0.06, 0.06, 0.06, 0.06]
HYDRA_model = [2.5, 2.8, 2.7, 2.5, 2.7, 3.0, 5.2, 3.2, 3.3, 3.5, 3.4, 4.2,
               6.1, 5.5, 5.3, 5.0, 4.6, 4.5, 3.9, 2.8, 2.6, 4.8, 2.5, 2.9,
               3.6, 10, 5.3, 5.6, 6.0, 7.1, 5.9, 5.8, 15.8, 5.5, 4.8, 4.6, 6.1, 4.9,
               5.0, 15.3, 6.5, 8.9, 6.3, 13.1, 6.4, 6.0, 5.9, 6.0, 15.3, 6.2,
               6.8, 8.0, 9.4, 10.5, 15.8, 10.8, 12.0, 12.3, 12.6, 14.0, 14.8, 17.5, 27, 18.5,
               19.5, 46, 21.5, 22, N]
HYDRA_cont = [2.4, 2.4, 2.4, 2.5, 2.35, 2.25, 3.0, 3.6, 3.9, 4.3, 4.6, 4.9, 5.2,
              5.5, 6.0, 6.6, 7.8, 9.2, 10.8, 12.3, 14.0, 16, 17, 19, 21.5, N]
HYDRA_phot_wl = [7.6, 22.75]
HYDRA_phot_fl = [4.0, 8.7]

PANELS = [
    dict(name="Abell 2597", sl=A2597_sl, sle=A2597_sl_err, sl2=A2597_sl2, sl2e=A2597_sl2_err,
         ll=A2597_ll, lle=A2597_ll_err, ll2=A2597_ll2, ll2e=A2597_ll2_err,
         model=A2597_model, cont=A2597_cont, pwl=A2597_phot_wl, pfl=A2597_phot_fl,
         yr=[-0.158, 1.572], tv=[1, 10], tt=["1", "10"]),
    dict(name="Abell 1795", sl=A1795_sl, sle=A1795_sl_err, sl2=A1795_sl2, sl2e=A1795_sl2_err,
         ll=A1795_ll, lle=A1795_ll_err, ll2=A1795_ll2, ll2e=A1795_ll2_err,
         model=A1795_model, cont=A1795_cont, pwl=A1795_phot_wl, pfl=A1795_phot_fl,
         yr=[-0.128, 1.382], tv=[1, 10], tt=["1", "10"]),
    dict(name="Abell 478", sl=A478_sl, sle=A478_sl_err, sl2=A478_sl2, sl2e=A478_sl2_err,
         ll=A478_ll, lle=A478_ll_err, ll2=A478_ll2, ll2e=A478_ll2_err,
         model=A478_model, cont=A478_cont, pwl=A478_phot_wl, pfl=A478_phot_fl,
         yr=[-0.378, 1.026], tv=[1, 10], tt=["1", "10"]),
    dict(name="2A0335+096", sl=A0335_sl, sle=A0335_sl_err, sl2=A0335_sl2, sl2e=A0335_sl2_err,
         ll=A0335_ll, lle=A0335_ll_err, ll2=A0335_ll2, ll2e=A0335_ll2_err,
         model=A0335_model, cont=A0335_cont, pwl=A0335_phot_wl, pfl=A0335_phot_fl,
         yr=[0.21, 1.53], tv=[10], tt=["10"]),
    dict(name="MS 0735.6+7421", sl=MS0735_sl, sle=MS0735_sl_err, sl2=MS0735_sl2, sl2e=MS0735_sl2_err,
         ll=MS0735_ll, lle=MS0735_ll_err, ll2=MS0735_ll2, ll2e=MS0735_ll2_err,
         model=MS0735_model, cont=MS0735_cont, pwl=MS0735_phot_wl, pfl=MS0735_phot_fl,
         yr=[-1.948, 0.476], tv=[0.1, 1], tt=["0.1", "1.0"]),
    dict(name="Abell 1835", sl=A1835_sl, sle=A1835_sl_err, sl2=A1835_sl2, sl2e=A1835_sl2_err,
         ll=A1835_ll, lle=A1835_ll_err, ll2=A1835_ll2, ll2e=A1835_ll2_err,
         model=A1835_model, cont=A1835_cont, pwl=A1835_phot_wl, pfl=A1835_phot_fl,
         yr=[-0.197, 1.770], tv=[1, 10], tt=["1", "10"]),
    dict(name="Abell 1068", sl=A1068_sl, sle=A1068_sl_err, sl2=A1068_sl2, sl2e=A1068_sl2_err,
         ll=A1068_ll, lle=A1068_ll_err, ll2=A1068_ll2, ll2e=A1068_ll2_err,
         model=A1068_model, cont=A1068_cont, pwl=A1068_phot_wl, pfl=A1068_phot_fl,
         yr=[0.178, 2.37], tv=[10, 100], tt=["10", "100"]),
    dict(name="PKS 0745\u221219", sl=PKS0745_sl, sle=PKS0745_sl_err, sl2=PKS0745_sl2, sl2e=PKS0745_sl2_err,
         ll=PKS0745_ll, lle=PKS0745_ll_err, ll2=PKS0745_ll2, ll2e=PKS0745_ll2_err,
         model=PKS0745_model, cont=PKS0745_cont, pwl=PKS0745_phot_wl, pfl=PKS0745_phot_fl,
         yr=[-0.19, 1.60], tv=[1, 10], tt=["1", "10"]),
    dict(name="Hydra A", sl=HYDRA_sl, sle=HYDRA_sl_err, sl2=HYDRA_sl2, sl2e=HYDRA_sl2_err,
         ll=HYDRA_ll, lle=HYDRA_ll_err, ll2=HYDRA_ll2, ll2e=HYDRA_ll2_err,
         model=HYDRA_model, cont=HYDRA_cont, pwl=HYDRA_phot_wl, pfl=HYDRA_phot_fl,
         yr=[0.227, 1.677], tv=[10], tt=["10"]),
]

GREEN = "rgb(0,135,68)"
GRAY = "rgb(150,150,150)"
CYAN = "rgb(0,174,239)"
FONT = "Liberation Sans, Arial, sans-serif"


def fit(lst, n, name):
    if len(lst) != n:
        sys.stderr.write("length mismatch %s: %d vs %d\n" % (name, len(lst), n))
        lst = (list(lst) + [None] * n)[:n]
    return list(lst)


def pairs(xs, ys):
    ox, oy = [], []
    for a, b in zip(xs, ys):
        if b is not None:
            ox.append(a)
            oy.append(b)
    return ox, oy


NP = len(PANELS)
fig = make_subplots(rows=NP, cols=1, shared_xaxes=True, vertical_spacing=0)

for i, p in enumerate(PANELS):
    r = i + 1
    nm = p["name"]
    wl_all, fl_all, er_all = [], [], []
    for grid, fk, ek in ((SL_WL, "sl", "sle"), (SL2_WL, "sl2", "sl2e"),
                         (LL_WL, "ll", "lle"), (LL2_WL, "ll2", "ll2e")):
        wl_all += grid
        fl_all += fit(p[fk], len(grid), nm + " " + fk)
        er_all += fit(p[ek], len(grid), nm + " " + ek)
    model = fit(p["model"], len(MODEL_WL), nm + " model")
    cont = fit(p["cont"], len(CONT_WL), nm + " cont")

    dx, dy, de = [], [], []
    for w, f, e in zip(wl_all, fl_all, er_all):
        if f is None:
            continue
        dx.append(w)
        dy.append(f)
        de.append((e if e is not None else 0.1) * f)
    fig.add_trace(go.Scatter(
        x=dx, y=dy, mode="markers",
        marker=dict(symbol="square-open", size=5, color="black", line=dict(width=1, color="black")),
        error_y=dict(type="data", array=de, visible=True, color="black", thickness=1, width=3.5),
        showlegend=False, hoverinfo="skip"), row=r, col=1)

    cx, cy = pairs(CONT_WL, cont)
    fig.add_trace(go.Scatter(
        x=cx, y=cy, mode="lines",
        line=dict(color=GRAY, width=3, shape="spline", smoothing=1.0),
        showlegend=False, hoverinfo="skip"), row=r, col=1)

    mx, my = pairs(MODEL_WL, model)
    fig.add_trace(go.Scatter(
        x=mx, y=my, mode="lines",
        line=dict(color=GREEN, width=1.9, shape="spline", smoothing=0.4),
        showlegend=False, hoverinfo="skip"), row=r, col=1)

    fig.add_trace(go.Scatter(
        x=p["pwl"], y=p["pfl"], mode="markers",
        marker=dict(symbol="square-open", size=14, color=CYAN, line=dict(width=2.5, color=CYAN)),
        showlegend=False, hoverinfo="skip", cliponaxis=False), row=r, col=1)

    fig.update_yaxes(
        type="log", range=p["yr"], tickmode="array", tickvals=p["tv"], ticktext=p["tt"],
        ticks="inside", ticklen=17, tickwidth=1.2, tickcolor="black",
        showline=True, linecolor="black", linewidth=1.2, mirror="ticks",
        showgrid=False, zeroline=False,
        tickfont=dict(family=FONT, size=17, color="black"),
        ticklabelstandoff=4,
        row=r, col=1)

    xref = "x domain" if r == 1 else "x%d domain" % r
    yref = "y domain" if r == 1 else "y%d domain" % r
    fig.add_annotation(text=nm, xref=xref, yref=yref, x=48 / 904, y=1 - 22 / 144.8,
                       xanchor="left", yanchor="middle", showarrow=False,
                       font=dict(family=FONT, size=19, color="black"))

fig.update_xaxes(
    range=[4.31, 36.68], tickmode="linear", tick0=5, dtick=5,
    ticks="inside", ticklen=6, tickwidth=1.2, tickcolor="black",
    minor=dict(dtick=1, tick0=5, ticks="inside", ticklen=3, tickwidth=1, tickcolor="black"),
    showline=True, linecolor="black", linewidth=1.2, mirror="ticks",
    showgrid=False, zeroline=False,
    tickfont=dict(family=FONT, size=17, color="black"))
fig.update_xaxes(ticklabelstandoff=6, row=NP, col=1)

fig.add_annotation(text="Rest Wavelength (\u03bcm)", xref="paper", yref="paper",
                   x=(525 - 68) / 904, y=1 - (1349 - 4) / 1303, xanchor="center", yanchor="middle",
                   showarrow=False, font=dict(family=FONT, size=19, color="black"))
fig.add_annotation(text="Rest\u2212Frame Intensity (mJy)", xref="paper", yref="paper",
                   x=(21 - 68) / 904, y=1 - (682 - 4) / 1303, xanchor="center", yanchor="middle",
                   textangle=-90, showarrow=False, font=dict(family=FONT, size=24, color="black"))

fig.update_layout(
    width=972, height=1361,
    margin=dict(l=68, r=0, t=4, b=54),
    paper_bgcolor="white", plot_bgcolor="white",
    showlegend=False,
)

fig.write_html("out.html")
